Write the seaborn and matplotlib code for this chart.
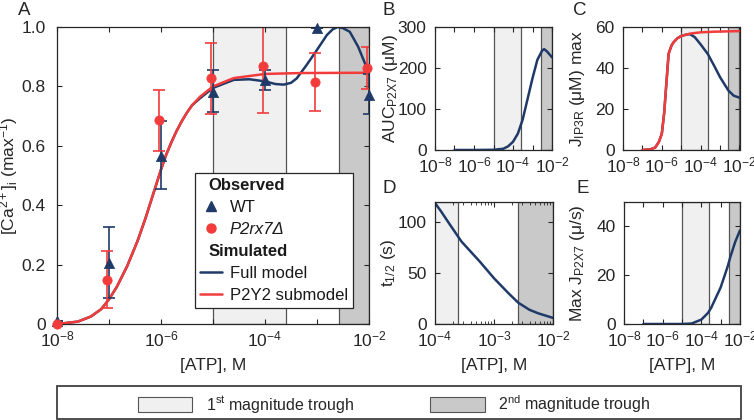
import numpy as np
import pandas as pd
import matplotlib
matplotlib.use("Agg")
import matplotlib.pyplot as plt
import seaborn as sns
from matplotlib.lines import Line2D
from matplotlib.patches import Patch, Rectangle
from matplotlib import font_manager as fm
from matplotlib.ticker import FixedLocator, FixedFormatter, LogLocator, NullFormatter, NullLocator

# ---------------- data ----------------
# Panel A observed
atp_wt = [1e-8, 1e-7, 1e-6, 1e-5, 1e-4, 1e-3, 1e-2]
wt_mean = [0.01, 0.204, 0.566, 0.78, 0.82, 0.998, 0.77]
wt_lo = [0.01, 0.089, 0.455, 0.715, 0.787, 0.998, 0.706]
wt_hi = [0.01, 0.328, 0.684, 0.855, 0.855, 0.998, 0.842]
atp_ko = [1e-8, 0.9e-7, 0.9e-6, 0.9e-5, 0.9e-4, 0.9e-3, 0.9e-2]
ko_mean = [0.0, 0.148, 0.687, 0.827, 0.869, 0.814, 0.861]
ko_lo = [0.0, 0.053, 0.582, 0.707, 0.711, 0.718, 0.79]
ko_hi = [0.0, 0.246, 0.788, 0.945, 1.02, 0.911, 0.934]

# Panel A simulated (log10 ATP, value)
a_sub_logx = [-8, -7.6, -7.35, -7.15, -7, -6.85, -6.65, -6.45, -6.3, -6.2, -6.1, -6,
              -5.9, -5.8, -5.7, -5.6, -5.5, -5.4, -5.25, -5, -4.6, -4, -3.3, -2]
a_sub_y = [0.0, 0.008, 0.025, 0.05, 0.083, 0.125, 0.195, 0.28, 0.355, 0.41, 0.465, 0.52,
           0.57, 0.612, 0.65, 0.683, 0.712, 0.737, 0.765, 0.80, 0.828, 0.842, 0.845, 0.846]
a_full_logx = [-8, -7.6, -7.35, -7.15, -7, -6.85, -6.65, -6.45, -6.3, -6.2, -6.1, -6,
               -5.9, -5.8, -5.7, -5.6, -5.5, -5.4, -5.25, -5, -4.6, -4.3, -4, -3.8,
               -3.64, -3.5, -3.39, -3.2, -3, -2.81, -2.7, -2.6, -2.5, -2.37, -2.21,
               -2.05, -2]
a_full_y = [0.0, 0.008, 0.025, 0.05, 0.083, 0.125, 0.195, 0.28, 0.355, 0.41, 0.465, 0.52,
            0.57, 0.612, 0.65, 0.683, 0.712, 0.737, 0.76, 0.795, 0.822, 0.824, 0.817, 0.808,
            0.806, 0.812, 0.827, 0.872, 0.923, 0.973, 0.992, 1.0, 0.996, 0.984, 0.934,
            0.866, 0.855]

# Panel B: AUC P2X7
b_logx = [-7, -6, -5, -4.5, -4.25, -4, -3.75, -3.5, -3.25, -3, -2.75, -2.5, -2.4, -2.25, -2]
b_y = [0, 0, 0.5, 3, 9, 20, 40, 75, 125, 175, 220, 243, 246, 240, 226]

# Panel C: J IP3R max
c_sub_logx = [-7, -6.6, -6.34, -6.15, -6, -5.88, -5.77, -5.65, -5.5, -5.4, -5.2, -5,
              -4.54, -4, -3.34, -2]
c_sub_y = [0, 0.3, 1.2, 4, 8, 18, 32, 47, 51, 52.5, 54.5, 55.6, 56.8, 57.4, 57.7, 58]
c_full_logx = [-7, -6.6, -6.34, -6.15, -6, -5.88, -5.77, -5.65, -5.5, -5.4, -5.2, -5,
               -4.75, -4.54, -4.3, -4, -3.63, -3.3, -3, -2.57, -2.3, -2]
c_full_y = [0, 0.3, 1.2, 4, 8, 18, 32, 47, 51, 52.5, 54.5, 55.6,
            56.3, 56.5, 55, 51.5, 46.8, 41, 35.5, 29, 26.5, 25.5]

# Panel D: t1/2
d_logx = [-4, -3.9, -3.75, -3.55, -3.25, -3, -2.75, -2.59, -2.4, -2.25, -2]
d_y = [119, 111, 98, 81, 62, 45, 30, 21, 14, 10.5, 6]

# Panel E: max J P2X7
e_logx = [-7, -6, -5, -4.5, -4, -3.66, -3.5, -3, -2.62, -2.5, -2.25, -2]
e_y = [0, 0, 0, 0.2, 1.8, 4.5, 6.5, 15, 24, 27.5, 33.6, 38.4]

# Trough ranges (M)
trough1 = [1e-5, 2.5e-4]
trough2 = [2.6e-3, 1e-2]

# tick labels
decades_wide = [1e-8, 1e-7, 1e-6, 1e-5, 1e-4, 1e-3, 1e-2]
decade_labels_wide = [r'$10^{-8}$', '', r'$10^{-6}$', '', r'$10^{-4}$', '', r'$10^{-2}$']
decades_d = [1e-4, 1e-3, 1e-2]
decade_labels_d = [r'$10^{-4}$', r'$10^{-3}$', r'$10^{-2}$']
a_yticks = [0, 0.2, 0.4, 0.6, 0.8, 1.0]
a_yticklabels = ['0', '0.2', '0.4', '0.6', '0.8', '1.0']

# ---------------- style ----------------
sns.set_theme(style="ticks")
plt.rcParams['font.family'] = ['Liberation Sans', 'DejaVu Sans']
plt.rcParams['mathtext.fontset'] = 'custom'
plt.rcParams['mathtext.rm'] = 'Liberation Sans'
plt.rcParams['mathtext.it'] = 'Liberation Sans:italic'
plt.rcParams['mathtext.bf'] = 'Liberation Sans:bold'
plt.rcParams['mathtext.sf'] = 'Liberation Sans'
plt.rcParams['axes.edgecolor'] = '#262626'
plt.rcParams['axes.linewidth'] = 0.9

FS = 12.5
TXT = '#262626'
BLUE = '#1f3a68'
RED = '#f23c3c'
LIGHT = '#f0f0f0'
DARK = '#c9c9c9'
EDGE = '#555555'

W, H = 754, 420
fig = plt.figure(figsize=(W / 100, H / 100), dpi=100)


def pos(l, t, r, b):
    return [l / W, 1 - b / H, (r - l) / W, (b - t) / H]


axA = fig.add_axes(pos(57, 27, 369, 324))
axB = fig.add_axes(pos(435, 27, 552, 150))
axC = fig.add_axes(pos(623, 27, 739.5, 150))
axD = fig.add_axes(pos(435, 202, 553, 324))
axE = fig.add_axes(pos(624, 202, 740, 324))


def shade(ax):
    ax.axvspan(trough1[0], trough1[1], facecolor=LIGHT, edgecolor=EDGE, lw=0.9, zorder=0)
    ax.axvspan(trough2[0], trough2[1], facecolor=DARK, edgecolor=EDGE, lw=0.9, zorder=0)


def style(ax, minor=False, ypad=6):
    ax.set_xscale('log')
    ax.tick_params(axis='both', which='major', direction='in', top=True, right=True,
                   length=3.5, width=0.8, labelsize=FS, labelcolor=TXT, color=TXT)
    ax.tick_params(axis='x', which='major', pad=4)
    ax.tick_params(axis='y', which='major', pad=ypad)
    if minor:
        ax.xaxis.set_minor_locator(LogLocator(base=10, subs=np.arange(2, 10)))
        ax.xaxis.set_minor_formatter(NullFormatter())
        ax.tick_params(axis='x', which='minor', direction='in', top=True, bottom=True,
                       length=2, width=0.6, color=TXT)
    else:
        ax.xaxis.set_minor_locator(NullLocator())
    ax.yaxis.set_minor_locator(NullLocator())
    for s in ax.spines.values():
        s.set_color(TXT)
        s.set_linewidth(0.9)
        s.set_zorder(5)


def line(ax, lx, y, color, lw=1.8, z=3):
    df = pd.DataFrame({'x': 10 ** np.array(lx, dtype=float), 'y': y})
    sns.lineplot(data=df, x='x', y='y', ax=ax, color=color, lw=lw, zorder=z,
                 estimator=None, sort=False, legend=False)


# ---------------- Panel A ----------------
shade(axA)
line(axA, a_full_logx, a_full_y, BLUE, z=3)
line(axA, a_sub_logx, a_sub_y, RED, z=3.5)
wt_err = [np.array(wt_mean) - np.array(wt_lo), np.array(wt_hi) - np.array(wt_mean)]
ko_err = [np.array(ko_mean) - np.array(ko_lo), np.array(ko_hi) - np.array(ko_mean)]
axA.errorbar(atp_wt, wt_mean, yerr=wt_err, fmt='none', ecolor=BLUE, elinewidth=1.2,
             capsize=4, capthick=1.2, zorder=4)
axA.errorbar(atp_ko, ko_mean, yerr=ko_err, fmt='none', ecolor=RED, elinewidth=1.2,
             capsize=4, capthick=1.2, zorder=4.2)
n_before = len(axA.collections)
sns.scatterplot(x=atp_wt, y=wt_mean, ax=axA, marker='^', color=BLUE, s=55,
                edgecolor=BLUE, linewidth=0.5, zorder=6, legend=False)
sns.scatterplot(x=atp_ko, y=ko_mean, ax=axA, marker='o', color=RED, s=45,
                edgecolor=RED, linewidth=0.5, zorder=6.5, legend=False)
for c in axA.collections[n_before:]:
    c.set_clip_on(False)
style(axA, minor=True, ypad=8)
axA.set_xlim(1e-8, 1e-2)
axA.set_ylim(0, 1.0)
axA.xaxis.set_major_locator(FixedLocator(decades_wide))
axA.xaxis.set_major_formatter(FixedFormatter(decade_labels_wide))
axA.yaxis.set_major_locator(FixedLocator(a_yticks))
axA.yaxis.set_major_formatter(FixedFormatter(a_yticklabels))
axA.set_xlabel('[ATP], M', fontsize=FS, color=TXT)
axA.set_ylabel(r'[Ca$^{2+}$]$_\mathrm{i}$ (max$^{-1}$)', fontsize=FS, color=TXT)
axA.xaxis.set_label_coords(0.5, -0.113)
axA.yaxis.set_label_coords(-0.117, 0.5)

hdr = Line2D([], [], linestyle='none', marker=None)
handles = [hdr,
           Line2D([], [], linestyle='none', marker='^', color=BLUE, markersize=7),
           Line2D([], [], linestyle='none', marker='o', color=RED, markersize=6.5),
           hdr,
           Line2D([], [], color=BLUE, lw=1.8),
           Line2D([], [], color=RED, lw=1.8)]
labels = ['Observed', 'WT', 'P2rx7Δ', 'Simulated', 'Full model', 'P2Y2 submodel']
leg = axA.legend(handles, labels, loc='lower right', bbox_to_anchor=(0.9487, 0.054),
                 borderaxespad=0, fontsize=12, frameon=True, fancybox=False,
                 edgecolor='#262626', framealpha=1, handlelength=1.3, handletextpad=0.5,
                 labelspacing=0.42, borderpad=0.3)
leg.get_frame().set_linewidth(0.9)
leg.set_zorder(10)
texts = leg.get_texts()
for i in (0, 3):
    texts[i].set_fontweight('bold')
texts[2].set_fontstyle('italic')
for t in texts:
    t.set_color('#1a1a1a')
try:
    rows = leg._legend_handle_box.get_children()[0].get_children()
    for i in (0, 3):
        rows[i].get_children()[0].width = 0
except Exception:
    pass

# ---------------- Panel B ----------------
shade(axB)
line(axB, b_logx, b_y, BLUE)
style(axB)
axB.set_xlim(1e-8, 1e-2)
axB.set_ylim(0, 300)
axB.xaxis.set_major_locator(FixedLocator(decades_wide))
axB.xaxis.set_major_formatter(FixedFormatter(decade_labels_wide))
axB.yaxis.set_major_locator(FixedLocator([0, 100, 200, 300]))
axB.set_xlabel('')
axB.set_ylabel(r'AUC$_\mathrm{P2X7}$ (μM)', fontsize=FS, color=TXT)
axB.yaxis.set_label_coords(-0.30, 0.5)

# ---------------- Panel C ----------------
shade(axC)
line(axC, c_full_logx, c_full_y, BLUE, z=3)
line(axC, c_sub_logx, c_sub_y, RED, z=3.5)
style(axC)
axC.set_xlim(1e-8, 1e-2)
axC.set_ylim(0, 60)
axC.xaxis.set_major_locator(FixedLocator(decades_wide))
axC.xaxis.set_major_formatter(FixedFormatter(decade_labels_wide))
axC.yaxis.set_major_locator(FixedLocator([0, 20, 40, 60]))
axC.set_xlabel('')
axC.set_ylabel(r'J$_\mathrm{IP3R}$ (μM) max', fontsize=FS, color=TXT)
axC.yaxis.set_label_coords(-0.31, 0.5)

# ---------------- Panel D ----------------
shade(axD)
line(axD, d_logx, d_y, BLUE)
style(axD, minor=True)
axD.set_xlim(1e-4, 1e-2)
axD.set_ylim(0, 120)
axD.xaxis.set_major_locator(FixedLocator(decades_d))
axD.xaxis.set_major_formatter(FixedFormatter(decade_labels_d))
axD.yaxis.set_major_locator(FixedLocator([0, 50, 100]))
axD.set_xlabel('[ATP], M', fontsize=FS, color=TXT)
axD.set_ylabel(r't$_{1/2}$ (s)', fontsize=FS, color=TXT)
axD.xaxis.set_label_coords(0.5, -0.275)
axD.yaxis.set_label_coords(-0.31, 0.5)

# ---------------- Panel E ----------------
shade(axE)
line(axE, e_logx, e_y, BLUE)
style(axE)
axE.set_xlim(1e-8, 1e-2)
axE.set_ylim(0, 50)
axE.xaxis.set_major_locator(FixedLocator(decades_wide))
axE.xaxis.set_major_formatter(FixedFormatter(decade_labels_wide))
axE.yaxis.set_major_locator(FixedLocator([0, 20, 40]))
axE.set_xlabel('[ATP], M', fontsize=FS, color=TXT)
axE.set_ylabel(r'Max J$_\mathrm{P2X7}$ (μ/s)', fontsize=FS, color=TXT)
axE.xaxis.set_label_coords(0.5, -0.275)
axE.yaxis.set_label_coords(-0.32, 0.5)

# panel letters
for lab, x, y in [('A', 18, 2), ('B', 383, 2), ('C', 573, 2), ('D', 383, 180), ('E', 577, 180)]:
    fig.text(x / W, 1 - y / H, lab, fontsize=FS + 1, color=TXT, ha='left', va='top')

# ---------------- bottom legend ----------------
names = {f.name for f in fm.fontManager.ttflist}
if 'Liberation Sans Narrow' in names:
    leg_font = {'family': ['Liberation Sans Narrow', 'DejaVu Sans'], 'size': 13}
else:
    leg_font = {'family': ['Liberation Sans', 'DejaVu Sans'], 'size': 11.5}
fig.patches.append(Rectangle((57 / W, 1 - 419 / H), (741 - 57) / W, 33 / H,
                             transform=fig.transFigure, fill=False,
                             edgecolor='#404040', lw=1.3))
p1 = Patch(facecolor=LIGHT, edgecolor=EDGE, lw=0.8)
p2 = Patch(facecolor=DARK, edgecolor=EDGE, lw=0.8)
fig.legend([p1, p2], [r'1$^{\mathrm{st}}$ magnitude trough', r'2$^{\mathrm{nd}}$ magnitude trough'],
           loc='center', bbox_to_anchor=(394 / W, 1 - 404 / H), ncol=2, frameon=False,
           prop=leg_font, handlelength=3.4, handleheight=1.1, handletextpad=0.85,
           columnspacing=4.8)

fig.savefig('out.png', dpi=100)
